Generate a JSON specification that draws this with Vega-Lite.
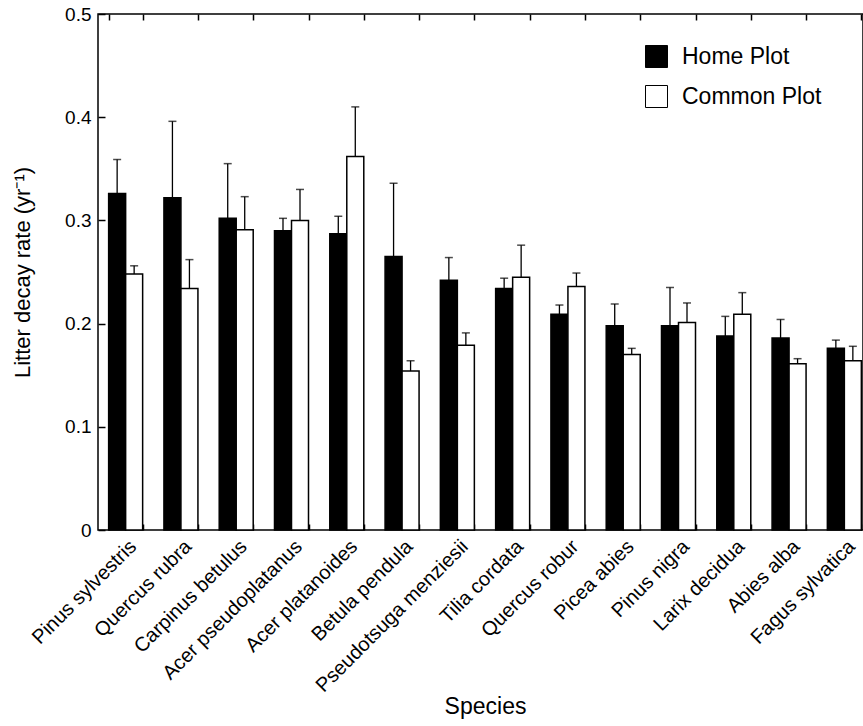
{
  "$schema": "https://vega.github.io/schema/vega-lite/v6.json",
  "width": 765,
  "height": 516,
  "autosize": {"type": "none"},
  "padding": {"left": 98, "top": 14, "right": 0, "bottom": 196},
  "config": {
    "font": "Liberation Sans",
    "view": {"stroke": "black", "strokeWidth": 1.5},
    "axis": {"domain": false, "grid": false, "labelColor": "black", "titleColor": "black", "tickColor": "black", "labelFont": "Liberation Sans", "titleFont": "Liberation Sans", "titleFontWeight": "normal", "labelLimit": 0}
  },
  "data": {
    "values": [
      {"Species": "Pinus sylvestris", "Series": "Home Plot", "Value": 0.326, "Upper": 0.359},
      {"Species": "Pinus sylvestris", "Series": "Common Plot", "Value": 0.248, "Upper": 0.256},
      {"Species": "Quercus rubra", "Series": "Home Plot", "Value": 0.322, "Upper": 0.396},
      {"Species": "Quercus rubra", "Series": "Common Plot", "Value": 0.234, "Upper": 0.262},
      {"Species": "Carpinus betulus", "Series": "Home Plot", "Value": 0.302, "Upper": 0.355},
      {"Species": "Carpinus betulus", "Series": "Common Plot", "Value": 0.291, "Upper": 0.323},
      {"Species": "Acer pseudoplatanus", "Series": "Home Plot", "Value": 0.290, "Upper": 0.302},
      {"Species": "Acer pseudoplatanus", "Series": "Common Plot", "Value": 0.300, "Upper": 0.330},
      {"Species": "Acer platanoides", "Series": "Home Plot", "Value": 0.287, "Upper": 0.304},
      {"Species": "Acer platanoides", "Series": "Common Plot", "Value": 0.362, "Upper": 0.410},
      {"Species": "Betula pendula", "Series": "Home Plot", "Value": 0.265, "Upper": 0.336},
      {"Species": "Betula pendula", "Series": "Common Plot", "Value": 0.154, "Upper": 0.164},
      {"Species": "Pseudotsuga menziesii", "Series": "Home Plot", "Value": 0.242, "Upper": 0.264},
      {"Species": "Pseudotsuga menziesii", "Series": "Common Plot", "Value": 0.179, "Upper": 0.191},
      {"Species": "Tilia cordata", "Series": "Home Plot", "Value": 0.234, "Upper": 0.244},
      {"Species": "Tilia cordata", "Series": "Common Plot", "Value": 0.245, "Upper": 0.276},
      {"Species": "Quercus robur", "Series": "Home Plot", "Value": 0.209, "Upper": 0.218},
      {"Species": "Quercus robur", "Series": "Common Plot", "Value": 0.236, "Upper": 0.249},
      {"Species": "Picea abies", "Series": "Home Plot", "Value": 0.198, "Upper": 0.219},
      {"Species": "Picea abies", "Series": "Common Plot", "Value": 0.170, "Upper": 0.176},
      {"Species": "Pinus nigra", "Series": "Home Plot", "Value": 0.198, "Upper": 0.235},
      {"Species": "Pinus nigra", "Series": "Common Plot", "Value": 0.201, "Upper": 0.220},
      {"Species": "Larix decidua", "Series": "Home Plot", "Value": 0.188, "Upper": 0.207},
      {"Species": "Larix decidua", "Series": "Common Plot", "Value": 0.209, "Upper": 0.230},
      {"Species": "Abies alba", "Series": "Home Plot", "Value": 0.186, "Upper": 0.204},
      {"Species": "Abies alba", "Series": "Common Plot", "Value": 0.161, "Upper": 0.166},
      {"Species": "Fagus sylvatica", "Series": "Home Plot", "Value": 0.176, "Upper": 0.184},
      {"Species": "Fagus sylvatica", "Series": "Common Plot", "Value": 0.164, "Upper": 0.178}
    ]
  },
  "layer": [
    {
      "mark": {"type": "bar", "stroke": "black", "strokeWidth": 1.5},
      "encoding": {
        "x": {
          "field": "Species", "type": "nominal", "sort": null,
          "scale": {"range": [0, 774], "paddingInner": 0.385, "paddingOuter": 0.1925},
          "axis": {"orient": "bottom", "title": "Species", "labelAngle": -45, "labelFontSize": 20, "tickBand": "extent", "tickSize": -6, "tickWidth": 1.5, "labelPadding": 12, "titleFontSize": 23, "titlePadding": 0}
        },
        "xOffset": {"field": "Series", "type": "nominal", "sort": ["Home Plot", "Common Plot"], "scale": {"paddingInner": 0, "paddingOuter": 0}},
        "y": {
          "field": "Value", "type": "quantitative",
          "scale": {"domain": [0, 0.5], "nice": false},
          "axis": {"orient": "left", "values": [0, 0.1, 0.2, 0.3, 0.4, 0.5], "format": ".1~f", "tickSize": -7, "tickWidth": 1.5, "labelPadding": 14, "labelFontSize": 19, "title": "Litter decay rate (yr⁻¹)", "titleFontSize": 22, "titlePadding": 30}
        },
        "fill": {
          "field": "Series", "type": "nominal",
          "scale": {"domain": ["Home Plot", "Common Plot"], "range": ["black", "white"]},
          "legend": {"orient": "none", "legendX": 547, "legendY": 31, "title": null, "direction": "vertical", "symbolType": "square", "symbolSize": 484, "symbolStrokeColor": "black", "symbolStrokeWidth": 1, "labelFontSize": 23, "labelColor": "black", "labelOffset": 14, "rowPadding": 13}
        }
      }
    },
    {
      "mark": {"type": "rule", "color": "black", "strokeWidth": 1.3},
      "encoding": {
        "x": {
          "field": "Species", "type": "nominal", "sort": null,
          "axis": {"orient": "top", "labels": false, "title": null, "tickBand": "extent", "tickSize": -6, "tickWidth": 1.5}
        },
        "xOffset": {"field": "Series", "type": "nominal", "sort": ["Home Plot", "Common Plot"]},
        "y": {"field": "Value", "type": "quantitative"},
        "y2": {"field": "Upper"}
      }
    },
    {
      "mark": {"type": "tick", "color": "black", "size": 8, "thickness": 1.5},
      "encoding": {
        "x": {"field": "Species", "type": "nominal", "sort": null, "axis": null},
        "xOffset": {"field": "Series", "type": "nominal", "sort": ["Home Plot", "Common Plot"]},
        "y": {"field": "Upper", "type": "quantitative"}
      }
    }
  ],
  "resolve": {"axis": {"x": "independent"}}
}
